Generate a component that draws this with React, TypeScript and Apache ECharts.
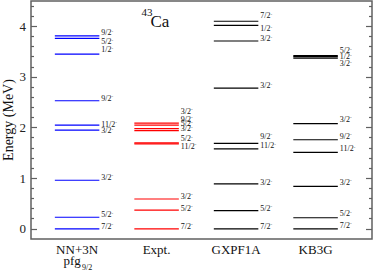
import React, { useEffect, useRef } from "react";
import * as echarts from "echarts";

const FONT = "Liberation Serif";

// model names (x positions 1..4)
const models = ["NN+3N", "Expt.", "GXPF1A", "KB3G"];
const modelColors = ["#0000ff", "#ff0000", "#000000", "#000000"];

// NN+3N pfg9/2
const nnE = [0, 0.23, 0.96, 1.95, 2.05, 2.53, 3.45, 3.76, 3.81];
const nnJ = ["7/2", "5/2", "3/2", "3/2", "11/2", "9/2", "1/2", "5/2", "9/2"];
const nnLabelE = [0.05, 0.28, 1.02, 1.94, 2.07, 2.58, 3.54, 3.7, 3.87];

// Experiment
const exE = [0, 0.37, 0.59, 1.68, 1.7, 1.94, 1.98, 2.05, 2.09];
const exJ = ["7/2", "5/2", "3/2", "11/2", "5/2", "3/2", "5/2", "9/2", "3/2"];
const exLabelE = [0.05, 0.41, 0.64, 1.63, 1.78, 1.98, 2.08, 2.16, 2.32];

// GXPF1A
const gxE = [0, 0.36, 0.89, 1.58, 1.69, 2.78, 3.71, 4.02, 4.1];
const gxJ = ["7/2", "5/2", "3/2", "11/2", "9/2", "3/2", "3/2", "1/2", "7/2"];
const gxLabelE = [0.05, 0.41, 0.91, 1.64, 1.83, 2.83, 3.75, 3.95, 4.21];

// KB3G
const kbE = [0, 0.22, 0.84, 1.51, 1.76, 2.08, 3.37, 3.4, 3.42];
const kbJ = ["7/2", "5/2", "3/2", "11/2", "9/2", "3/2", "3/2", "1/2", "5/2"];
const kbLabelE = [0.07, 0.3, 0.92, 1.58, 1.83, 2.16, 3.26, 3.4, 3.52];

// y axis ticks
const majorTicks = [0, 1, 2, 3, 4];
const minorTicks = [
  0.2, 0.4, 0.6, 0.8, 1.2, 1.4, 1.6, 1.8, 2.2, 2.4, 2.6, 2.8, 3.2, 3.4, 3.6, 3.8,
  4.2, 4.4,
];

const levelSets = [
  { E: nnE, J: nnJ, L: nnLabelE },
  { E: exE, J: exJ, L: exLabelE },
  { E: gxE, J: gxJ, L: gxLabelE },
  { E: kbE, J: kbJ, L: kbLabelE },
];

const HALF = 0.28;
const FRAME = "#606060";

export default function App() {
  const ref = useRef<HTMLDivElement>(null);
  useEffect(() => {
    if (!ref.current) return;
    const chart = echarts.init(ref.current, null, { renderer: "svg" });

    const series = levelSets.map((set, mi) => ({
      type: "custom",
      coordinateSystem: "cartesian2d",
      xAxisIndex: 0,
      yAxisIndex: 0,
      clip: false,
      data: set.E.map((e) => [mi + 1, e]),
      renderItem: (params: any, api: any) => {
        const i = params.dataIndex;
        const x = api.value(0);
        const e = api.value(1);
        const p0 = api.coord([x - HALF, e]);
        const p1 = api.coord([x + HALF, e]);
        const lp = api.coord([x + HALF, set.L[i]]);
        return {
          type: "group",
          children: [
            {
              type: "line",
              shape: { x1: p0[0], y1: p0[1], x2: p1[0], y2: p1[1] },
              style: { stroke: modelColors[mi], lineWidth: 1.2 },
            },
            {
              type: "text",
              x: lp[0] + 2,
              y: lp[1],
              style: {
                text: `{m|${set.J[i]}}{s|-}`,
                align: "left",
                verticalAlign: "middle",
                fontFamily: FONT,
                fontSize: 8,
                fill: "#111",
                rich: {
                  m: { fontSize: 8, fontFamily: FONT, fill: "#111", lineHeight: 8 },
                  s: {
                    fontSize: 5,
                    fontFamily: FONT,
                    fill: "#111",
                    lineHeight: 5,
                    verticalAlign: "top",
                  },
                },
              },
            },
          ],
        };
      },
    }));

    const yBase = {
      type: "value",
      min: -0.2,
      max: 4.5,
      splitLine: { show: false },
      axisLine: { show: false },
    };

    chart.setOption({
      animation: false,
      grid: {
        left: 31,
        right: 2,
        top: 1,
        bottom: 33,
        outerBoundsMode: "none",
        containLabel: false,
        show: true,
        borderColor: FRAME,
        borderWidth: 1.5,
        backgroundColor: "transparent",
      },
      xAxis: {
        type: "value",
        min: 0.42,
        max: 4.71,
        splitLine: { show: false },
        axisLine: { show: false },
        axisTick: { show: false },
        axisLabel: {
          customValues: [1, 2, 3, 4],
          margin: 4,
          fontFamily: FONT,
          fontSize: 13,
          color: "#111",
          formatter: (v: number) => models[Math.round(v) - 1],
        },
      },
      yAxis: [
        {
          ...yBase,
          position: "left",
          name: "Energy (MeV)",
          nameLocation: "middle",
          nameGap: 16,
          nameMoveOverlap: false,
          nameTextStyle: { fontFamily: FONT, fontSize: 14, color: "#111" },
          axisTick: {
            show: true,
            inside: true,
            length: 6,
            customValues: majorTicks,
            lineStyle: { color: FRAME, width: 1.2 },
          },
          axisLabel: {
            customValues: majorTicks,
            margin: 5,
            fontFamily: FONT,
            fontSize: 13,
            color: "#222",
          },
        },
        {
          ...yBase,
          position: "left",
          axisTick: {
            show: true,
            inside: true,
            length: 3,
            customValues: minorTicks,
            lineStyle: { color: FRAME, width: 1.2 },
          },
          axisLabel: { show: false },
        },
        {
          ...yBase,
          position: "right",
          axisTick: {
            show: true,
            inside: true,
            length: 6,
            customValues: majorTicks,
            lineStyle: { color: FRAME, width: 1.2 },
          },
          axisLabel: { show: false },
        },
        {
          ...yBase,
          position: "right",
          axisTick: {
            show: true,
            inside: true,
            length: 3,
            customValues: minorTicks,
            lineStyle: { color: FRAME, width: 1.2 },
          },
          axisLabel: { show: false },
        },
      ],
      graphic: [
        {
          type: "text",
          x: 141.5,
          y: 12,
          style: {
            text: "43",
            fontFamily: FONT,
            fontSize: 11,
            fill: "#111",
            align: "left",
            verticalAlign: "middle",
          },
        },
        {
          type: "text",
          x: 150.5,
          y: 21,
          style: {
            text: "Ca",
            fontFamily: FONT,
            fontSize: 17,
            fill: "#111",
            align: "left",
            verticalAlign: "middle",
          },
        },
        {
          type: "text",
          x: 63.5,
          y: 260,
          style: {
            text: "pfg",
            fontFamily: FONT,
            fontSize: 13,
            fill: "#111",
            align: "left",
            verticalAlign: "middle",
          },
        },
        {
          type: "text",
          x: 82,
          y: 267,
          style: {
            text: "9/2",
            fontFamily: FONT,
            fontSize: 8,
            fill: "#111",
            align: "left",
            verticalAlign: "middle",
          },
        },
      ],
      series,
    });

    return () => chart.dispose();
  }, []);

  return (
    <div
      ref={ref}
      style={{ position: "absolute", left: 0, top: 0, width: 374, height: 272 }}
    />
  );
}
